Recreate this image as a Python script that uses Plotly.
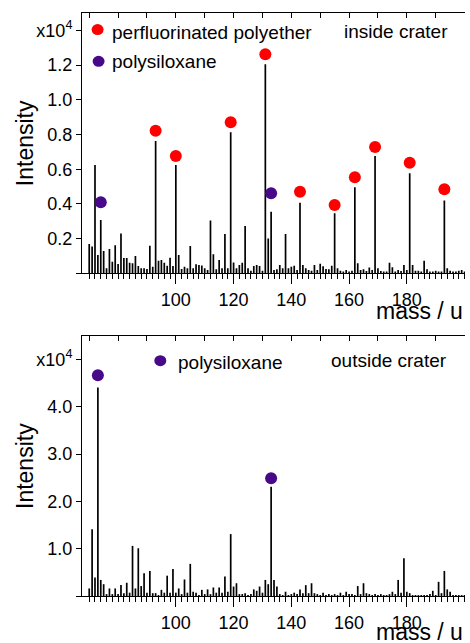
import plotly.graph_objects as go

# ---------------- data (intensity in units of 1e4 counts) ----------------
mass = list(range(70, 201))

int_inside = [
    0.169, 0.154, 0.624, 0.106, 0.307, 0.129, 0.029, 0.140, 0.067, 0.161,   # 70-79
    0.054, 0.229, 0.088, 0.088, 0.061, 0.058, 0.100, 0.042, 0.029, 0.029,   # 80-89
    0.025, 0.159, 0.038, 0.762, 0.073, 0.077, 0.061, 0.044, 0.090, 0.042,   # 90-99
    0.624, 0.106, 0.025, 0.038, 0.029, 0.158, 0.029, 0.052, 0.048, 0.045,   # 100-109
    0.029, 0.019, 0.304, 0.110, 0.023, 0.077, 0.029, 0.227, 0.029, 0.813,   # 110-119
    0.063, 0.029, 0.048, 0.061, 0.273, 0.029, 0.015, 0.042, 0.048, 0.042,   # 120-129
    0.015, 1.205, 0.200, 0.355, 0.019, 0.023, 0.048, 0.029, 0.227, 0.029,   # 130-139
    0.038, 0.044, 0.019, 0.407, 0.048, 0.029, 0.019, 0.015, 0.048, 0.019,   # 140-149
    0.055, 0.040, 0.025, 0.023, 0.044, 0.346, 0.029, 0.015, 0.010, 0.019,   # 150-159
    0.010, 0.015, 0.496, 0.058, 0.019, 0.023, 0.013, 0.033, 0.019, 0.676,   # 160-169
    0.029, 0.013, 0.010, 0.010, 0.061, 0.035, 0.010, 0.019, 0.013, 0.048,   # 170-179
    0.019, 0.576, 0.048, 0.015, 0.015, 0.010, 0.073, 0.023, 0.010, 0.010,   # 180-189
    0.015, 0.010, 0.010, 0.419, 0.029, 0.015, 0.010, 0.010, 0.015, 0.019,   # 190-199
    0.010,                                                                  # 200
]

int_outside = [
    0.16, 1.41, 0.39, 4.41, 0.34, 0.25, 0.04, 0.16, 0.04, 0.16,   # 70-79
    0.04, 0.23, 0.06, 0.28, 0.07, 1.06, 0.16, 1.01, 0.21, 0.48,   # 80-89
    0.07, 0.53, 0.06, 0.06, 0.02, 0.13, 0.07, 0.43, 0.07, 0.57,   # 90-99
    0.07, 0.16, 0.04, 0.35, 0.07, 0.68, 0.09, 0.07, 0.02, 0.13,   # 100-109
    0.04, 0.14, 0.04, 0.18, 0.07, 0.18, 0.07, 0.41, 0.09, 1.31,   # 110-119
    0.20, 0.27, 0.04, 0.04, 0.06, 0.02, 0.04, 0.14, 0.11, 0.20,   # 120-129
    0.07, 0.34, 0.25, 2.31, 0.34, 0.20, 0.04, 0.02, 0.09, 0.02,   # 130-139
    0.04, 0.07, 0.04, 0.14, 0.06, 0.23, 0.06, 0.27, 0.06, 0.04,   # 140-149
    0.02, 0.07, 0.02, 0.04, 0.02, 0.04, 0.02, 0.07, 0.02, 0.09,   # 150-159
    0.04, 0.04, 0.02, 0.21, 0.04, 0.27, 0.06, 0.04, 0.02, 0.04,   # 160-169
    0.02, 0.04, 0.02, 0.02, 0.04, 0.09, 0.04, 0.34, 0.07, 0.80,   # 170-179
    0.09, 0.06, 0.02, 0.02, 0.02, 0.02, 0.02, 0.02, 0.04, 0.11,   # 180-189
    0.02, 0.30, 0.06, 0.53, 0.14, 0.09, 0.02, 0.02, 0.02, 0.02,   # 190-199
    0.02,                                                          # 200
]

# marker (dot) positions identifying the species
pfpe_mass = [93, 100, 119, 131, 143, 155, 162, 169, 181, 193]
pfpe_dot = [0.821, 0.676, 0.870, 1.262, 0.470, 0.394, 0.553, 0.728, 0.637, 0.484]
psx_in_mass = [74, 133]
psx_in_dot = [0.409, 0.461]
psx_out_mass = [73, 133]
psx_out_dot = [4.67, 2.49]

x_major = list(range(70, 201, 10))
x_labels = {100: "100", 120: "120", 140: "140", 160: "160", 180: "180"}
x_minor = list(range(70, 201, 2))

y_in_ticks = [0, 0.2, 0.4, 0.6, 0.8, 1.0, 1.2, 1.4]
y_in_text = ["", "0.2", "0.4", "0.6", "0.8", "1.0", "1.2", "x10<sup>4</sup>"]
y_out_ticks = [0, 1, 2, 3, 4, 5]
y_out_text = ["", "1.0", "2.0", "3.0", "4.0", "x10<sup>4</sup>"]

RED = "#ff0000"
PURPLE = "#48088a"
FONT = "Liberation Sans, Arial, sans-serif"


def sticks(m, v):
    xs, ys = [], []
    for a, b in zip(m, v):
        xs += [a, a, None]
        ys += [0, b, None]
    return xs, ys


fig = go.Figure()

xs, ys = sticks(mass, int_inside)
fig.add_trace(go.Scatter(x=xs, y=ys, mode="lines", line=dict(color="black", width=1.7),
                         xaxis="x", yaxis="y", showlegend=False, hoverinfo="skip"))
xs, ys = sticks(mass, int_outside)
fig.add_trace(go.Scatter(x=xs, y=ys, mode="lines", line=dict(color="black", width=1.7),
                         xaxis="x2", yaxis="y2", showlegend=False, hoverinfo="skip"))

fig.add_trace(go.Scatter(x=pfpe_mass, y=pfpe_dot, mode="markers",
                         marker=dict(color=RED, size=12), xaxis="x", yaxis="y", showlegend=False))
fig.add_trace(go.Scatter(x=psx_in_mass, y=psx_in_dot, mode="markers",
                         marker=dict(color=PURPLE, size=12), xaxis="x", yaxis="y", showlegend=False))
fig.add_trace(go.Scatter(x=psx_out_mass, y=psx_out_dot, mode="markers",
                         marker=dict(color=PURPLE, size=12), xaxis="x2", yaxis="y2", showlegend=False))
# hidden traces so the mirror axes render
fig.add_trace(go.Scatter(x=[None], y=[None], xaxis="x3", yaxis="y", showlegend=False))
fig.add_trace(go.Scatter(x=[None], y=[None], xaxis="x4", yaxis="y2", showlegend=False))

XR = [67.5, 200.15]
xbase = dict(
    range=XR, tickmode="array", tickvals=x_major,
    ticktext=[x_labels.get(v, "") for v in x_major],
    ticks="outside", ticklen=10, tickwidth=1, tickcolor="black",
    showline=True, linecolor="black", linewidth=1,
    showgrid=False, zeroline=False, automargin=False,
    tickfont=dict(family=FONT, size=18, color="black"),
    ticklabelstandoff=0,
    minor=dict(tickmode="array", tickvals=x_minor, ticks="outside", ticklen=5,
               tickwidth=1, tickcolor="black", showgrid=False),
)
xtop = dict(
    range=XR, tickmode="array", tickvals=x_major, ticks="inside", ticklen=5,
    tickwidth=1, tickcolor="black", showticklabels=False, side="top",
    showline=True, linecolor="black", linewidth=1, showgrid=False, zeroline=False,
    automargin=False,
)
ybase = dict(
    ticks="outside", ticklen=5, tickwidth=1, tickcolor="black",
    showline=True, linecolor="black", linewidth=1,
    showgrid=False, zeroline=False, automargin=False,
    tickfont=dict(family=FONT, size=18, color="black"),
)

TOP_DOM = [0.5535, 1.0]
BOT_DOM = [0.0, 0.446]

fig.update_layout(
    width=470, height=643,
    margin=dict(l=82, r=5, t=13, b=47, autoexpand=False),
    paper_bgcolor="white", plot_bgcolor="white",
    font=dict(family=FONT, color="black"),
    xaxis=dict(**xbase, anchor="y"),
    xaxis2=dict(**xbase, anchor="y2"),
    xaxis3=dict(**xtop, overlaying="x", anchor="y"),
    xaxis4=dict(**xtop, overlaying="x2", anchor="y2"),
    yaxis=dict(**ybase, domain=TOP_DOM, range=[0, 1.5], anchor="x",
               tickmode="array", tickvals=y_in_ticks, ticktext=y_in_text),
    yaxis2=dict(**ybase, domain=BOT_DOM, range=[0, 5.5], anchor="x2",
                tickmode="array", tickvals=y_out_ticks, ticktext=y_out_text),
)

ann = []
shapes = []


def text(s, x, y, xshift, yshift, xanchor="left", size=19, angle=0):
    ann.append(dict(text=s, x=x, y=y, xref="paper", yref="paper", xshift=xshift, yshift=yshift,
                    xanchor=xanchor, yanchor="middle", showarrow=False, textangle=angle,
                    font=dict(family=FONT, size=size, color="black")))


def dot(color, x, y, dx, dy, r=6):
    shapes.append(dict(type="circle", xref="paper", yref="paper", xsizemode="pixel",
                       ysizemode="pixel", xanchor=x, yanchor=y,
                       x0=dx - r, x1=dx + r, y0=dy - r + 0.5, y1=dy + r - 0.5,
                       fillcolor=color, line=dict(width=0)))


top_y, bot_y = TOP_DOM[1], BOT_DOM[1]
# top panel
dot(RED, 0, top_y, 15.6, -16.6)
text("perfluorinated polyether", 0, top_y, 28, -19)
dot(PURPLE, 0, top_y, 16.6, -48.3)
text("polysiloxane", 0, top_y, 28, -48.5)
text("inside crater", 1, top_y, -15, -18, xanchor="right")
text("Intensity", 0, (TOP_DOM[0] + TOP_DOM[1]) / 2, -57, 0, xanchor="center", size=23, angle=-90)
text("mass / u", 1, TOP_DOM[0], 0, -38, xanchor="right", size=23)
# bottom panel
dot(PURPLE, 0, bot_y, 78.3, -24.7)
text("polysiloxane", 0, bot_y, 94, -26.5)
text("outside crater", 1, bot_y, -16, -24.7, xanchor="right")
text("Intensity", 0, (BOT_DOM[0] + BOT_DOM[1]) / 2, -57, 0, xanchor="center", size=23, angle=-90)
text("mass / u", 1, BOT_DOM[0], 0, -36, xanchor="right", size=23)

fig.update_layout(annotations=ann, shapes=shapes)

fig.write_html("out.html",
               config={"displayModeBar": False},
               post_script="document.body.style.margin='0';document.body.style.padding='0';")
